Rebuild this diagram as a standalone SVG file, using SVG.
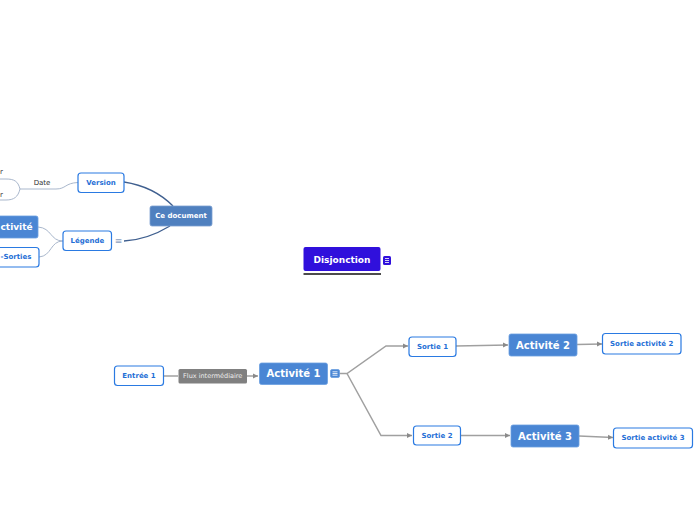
<svg xmlns="http://www.w3.org/2000/svg" width="696" height="520" viewBox="0 0 696 520">
<defs>
<style>
.t{font-family:"DejaVu Sans","Verdana",sans-serif;font-weight:bold;text-anchor:middle;dominant-baseline:central}
.sub rect{fill:#fff;stroke:#2a7ae2;stroke-width:1.2}
.sub text{fill:#1f6fd6;font-size:7px}
.main rect{fill:#4a86d4;stroke:#6b9ee0;stroke-width:0.8}
.main text{fill:#fff;font-size:10px}
.flow{fill:none;stroke:#a0a0a0;stroke-width:1.5}
.leg{fill:none;stroke:#a9b7cc;stroke-width:1}
.doc{fill:none;stroke:#3f5f8f;stroke-width:1.3}
.lbl{font-family:"DejaVu Sans",sans-serif;font-size:7px;fill:#333}
</style>
<marker id="ar" viewBox="0 0 10 10" refX="10" refY="5" markerWidth="5" markerHeight="6" markerUnits="userSpaceOnUse" orient="auto">
<path d="M0,0 L10,5 L0,10 Z" fill="#8a8a8a"/>
</marker>
</defs>
<g id="connectors">
<path class="doc" d="M124,182 C150,186 165,198 173,206"/>
<path class="doc" d="M124,241 C145,240 160,232 170,226"/>
<path class="leg" d="M78,182.5 C65,183 66,189 56,189 L20,189"/>
<path class="leg" d="M20,189 C18,181 14,179 6,179 L0,179"/>
<path class="leg" d="M20,189 C18,197 14,200 6,200 L0,200"/>
<path class="leg" d="M38,227 C52,228 50,241 63,241"/>
<path class="leg" d="M39,257 C52,256 50,241 63,241"/>
<path class="flow" d="M164,376 L178,376"/>
<path class="flow" d="M247,376 L258,376" marker-end="url(#ar)"/>
<path class="flow" d="M339,373.5 L347,373.5 L386,346 L408,346" marker-end="url(#ar)"/>
<path class="flow" d="M347,373.5 L381,435.5 L412,435.5" marker-end="url(#ar)"/>
<path class="flow" d="M456,346 L508,345" marker-end="url(#ar)"/>
<path class="flow" d="M577,344.5 L602,344" marker-end="url(#ar)"/>
<path class="flow" d="M460,435.5 L510,435.5" marker-end="url(#ar)"/>
<path class="flow" d="M579,436 L613,437.5" marker-end="url(#ar)"/>
</g>
<text class="lbl" x="42" y="184.5" text-anchor="middle">Date</text>
<text class="lbl" x="3" y="174" text-anchor="end">r</text>
<text class="lbl" x="3" y="196.5" text-anchor="end">r</text>
<g id="ce-document">
<rect x="150" y="206" width="62" height="20" rx="2" fill="#4f80bf" stroke="#7ba0d0" stroke-width="0.8"/>
<text class="t" x="181" y="216" fill="#fff" font-size="7">Ce document</text>
</g>
<g id="version" class="sub">
<rect x="78" y="173" width="46" height="19.5" rx="3"/>
<text class="t" x="101" y="182.8">Version</text>
</g>
<g id="legende" class="sub">
<rect x="63" y="231" width="48.5" height="19.5" rx="3"/>
<text class="t" x="87.3" y="240.8">Légende</text>
<text x="118.5" y="241" style="font-family:'DejaVu Sans',sans-serif;font-size:9px;fill:#8aa0c0;text-anchor:middle;dominant-baseline:central">≡</text>
</g>
<g id="activite-legend" class="main">
<rect x="-10" y="216" width="48" height="22" rx="2"/>
<text x="0.5" y="227" class="t" style="text-anchor:start;font-size:9px">ctivité</text>
</g>
<g id="es-legend" class="sub">
<rect x="-10" y="247.5" width="49" height="19.5" rx="3"/>
<text x="0.5" y="257.3" class="t" style="text-anchor:start">-Sorties</text>
</g>
<g id="disjonction">
<rect x="303.5" y="247" width="77" height="24" rx="2" fill="#3010dc"/>
<line x1="303.5" y1="274" x2="381" y2="274" stroke="#111" stroke-width="1.5"/>
<text class="t" x="342" y="259.5" fill="#fff" font-size="9">Disjonction</text>
<rect x="383" y="256" width="8" height="9" rx="1.5" fill="#3010dc"/>
<path d="M385,258.5 H389 M385,260.5 H389 M385,262.5 H389" stroke="#fff" stroke-width="0.8"/>
</g>
<g id="entree1" class="sub">
<rect x="114.5" y="366" width="49" height="19.5" rx="3"/>
<text class="t" x="139" y="375.8">Entrée 1</text>
</g>
<g id="flux">
<rect x="178.5" y="369" width="68.5" height="14.5" rx="1.5" fill="#808080"/>
<text x="212.7" y="376.3" style="font-family:'DejaVu Sans',sans-serif;font-size:6.5px;fill:#eee;text-anchor:middle;dominant-baseline:central">Flux intermédiaire</text>
</g>
<g id="activite1" class="main">
<rect x="259.5" y="363" width="68" height="21.5" rx="2"/>
<text class="t" x="293.5" y="373.8">Activité 1</text>
<rect x="330.5" y="369.5" width="9" height="8" rx="1.5" fill="#4a86d4" stroke="none"/>
<path d="M332.5,371.8 H337.5 M332.5,373.5 H337.5 M332.5,375.2 H337.5" stroke="#fff" stroke-width="0.8"/>
</g>
<g id="sortie1" class="sub">
<rect x="409" y="337" width="47" height="19.5" rx="3"/>
<text class="t" x="432.5" y="346.8">Sortie 1</text>
</g>
<g id="activite2" class="main">
<rect x="509" y="334" width="68" height="22" rx="2"/>
<text class="t" x="543" y="345">Activité 2</text>
</g>
<g id="sortie-activite2" class="sub">
<rect x="602.5" y="333.5" width="78.5" height="20.5" rx="3"/>
<text class="t" x="641.7" y="343.8">Sortie activité 2</text>
</g>
<g id="sortie2" class="sub">
<rect x="413.5" y="426" width="47" height="19" rx="3"/>
<text class="t" x="437" y="435.5">Sortie 2</text>
</g>
<g id="activite3" class="main">
<rect x="511" y="425" width="68" height="22" rx="2"/>
<text class="t" x="545" y="436">Activité 3</text>
</g>
<g id="sortie-activite3" class="sub">
<rect x="613.5" y="428" width="79" height="20" rx="3"/>
<text class="t" x="653" y="438">Sortie activité 3</text>
</g>
</svg>
